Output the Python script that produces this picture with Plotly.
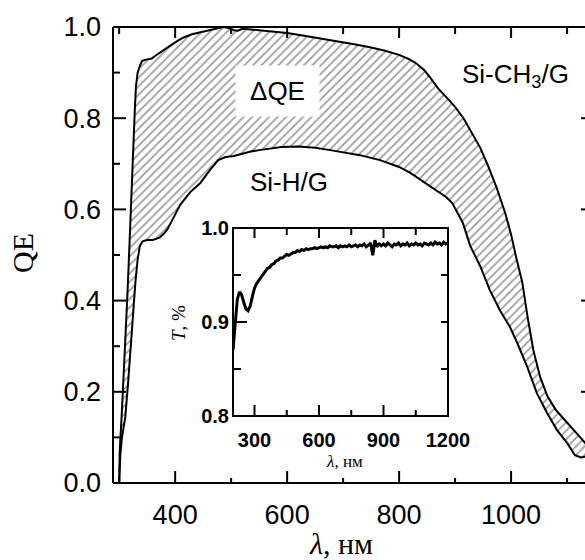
import plotly.graph_objects as go

# ---- data ----
wl_up = [300, 301, 305, 310, 315, 318, 322, 325, 328, 330, 333, 337, 341, 350, 358, 366, 375,
         390, 405, 415, 430, 445, 460, 475, 486, 495, 505, 512, 520, 530, 545, 560, 580, 600,
         625, 650, 675, 700, 725, 750, 775, 800, 815, 830, 845, 855, 870, 885, 900, 915, 930,
         945, 960, 975, 990, 1000, 1010, 1020, 1030, 1040, 1052, 1065, 1080, 1095, 1110, 1120,
         1132, 1145]
qe_up = [0.0, 0.07, 0.16, 0.28, 0.42, 0.51, 0.65, 0.74, 0.82, 0.87, 0.90, 0.915, 0.926, 0.929,
         0.931, 0.938, 0.946, 0.958, 0.970, 0.977, 0.984, 0.988, 0.992, 0.996, 1.0, 0.998, 0.993,
         0.992, 0.996, 0.995, 0.993, 0.991, 0.989, 0.987, 0.982, 0.977, 0.972, 0.967, 0.961,
         0.955, 0.948, 0.939, 0.931, 0.921, 0.905, 0.89, 0.865, 0.845, 0.825, 0.80, 0.768,
         0.735, 0.692, 0.645, 0.590, 0.545, 0.49, 0.44, 0.36, 0.29, 0.232, 0.19, 0.16, 0.14,
         0.12, 0.105, 0.088, 0.07]

wl_lo = [300, 302, 305, 311, 316, 320, 325, 329, 333, 337, 342, 350, 360, 366, 372, 380, 386,
         395, 409, 427, 445, 462, 477, 490, 505, 520, 535, 550, 570, 590, 620, 650, 677, 705,
         730, 766, 800, 820, 837, 855, 870, 885, 895, 905, 914, 927, 945, 962, 980, 998, 1011,
         1029, 1046, 1064, 1082, 1100, 1114, 1125, 1132, 1145]
qe_lo = [0.0, 0.06, 0.10, 0.145, 0.22, 0.29, 0.37, 0.44, 0.49, 0.52, 0.530, 0.533, 0.533,
         0.536, 0.538, 0.547, 0.556, 0.577, 0.61, 0.638, 0.658, 0.686, 0.708, 0.715, 0.717,
         0.722, 0.727, 0.730, 0.734, 0.737, 0.738, 0.735, 0.730, 0.724, 0.719, 0.708, 0.693,
         0.680, 0.666, 0.652, 0.640, 0.626, 0.614, 0.59, 0.57, 0.52, 0.475, 0.423, 0.379,
         0.342, 0.307, 0.254, 0.197, 0.154, 0.116, 0.088, 0.061, 0.056, 0.057, 0.06]

t_wl = list(range(200, 1201, 10))
t_val = [0.870, 0.902, 0.924, 0.932, 0.929, 0.921, 0.914, 0.912, 0.917, 0.927,
         0.936, 0.941, 0.944, 0.948, 0.951, 0.953, 0.957, 0.958, 0.961, 0.962,
         0.965, 0.966, 0.968, 0.968, 0.970, 0.972, 0.971, 0.973, 0.974, 0.974,
         0.976, 0.975, 0.977, 0.976, 0.978, 0.977, 0.978, 0.978, 0.979, 0.978,
         0.979, 0.980, 0.979, 0.980, 0.979, 0.981, 0.980, 0.980, 0.981, 0.979,
         0.981, 0.980, 0.981, 0.980, 0.982, 0.980, 0.981, 0.982, 0.980, 0.982,
         0.981, 0.983, 0.980, 0.982, 0.984, 0.971, 0.987, 0.980, 0.983, 0.981,
         0.983, 0.981, 0.984, 0.982, 0.980, 0.983, 0.982, 0.984, 0.981, 0.983,
         0.982, 0.984, 0.981, 0.983, 0.982, 0.984, 0.982, 0.983, 0.981, 0.984,
         0.983, 0.982, 0.984, 0.982, 0.985, 0.983, 0.984, 0.982, 0.985, 0.983,
         0.984]

main_xticks = [400, 600, 800, 1000]
main_xminor = [300, 500, 700, 900, 1100]
main_yticks = [0.0, 0.2, 0.4, 0.6, 0.8, 1.0]
main_yminor = [0.1, 0.3, 0.5, 0.7, 0.9]
inset_xticks = [300, 600, 900, 1200]
inset_xminor = [450, 750, 1050]
inset_yticks = [0.8, 0.9, 1.0]
inset_yminor = [0.85, 0.95]

W, H = 585, 560
def fx(p):
    return p / W
def fy(p):
    return 1 - p / H

SANS = "Liberation Sans"
SERIF = "Liberation Serif"

# pixel geometry of the two plot areas
M_L, M_R, M_T, M_B = 113, 585, 27, 483
I_L, I_R, I_T, I_B = 233, 448, 228, 416
MW, MH = M_R - M_L, M_B - M_T
IW, IH = I_R - I_L, I_B - I_T

fig = go.Figure()
fig.add_trace(go.Scatter(x=wl_lo, y=qe_lo, mode="lines",
                         line=dict(color="black", width=2), xaxis="x", yaxis="y",
                         showlegend=False, hoverinfo="skip"))
fig.add_trace(go.Scatter(x=wl_up, y=qe_up, mode="lines",
                         line=dict(color="black", width=2), xaxis="x", yaxis="y",
                         fill="tonexty", fillcolor="white",
                         fillpattern=dict(shape="/", fgcolor="#999999", bgcolor="white",
                                          size=6, solidity=0.27),
                         showlegend=False, hoverinfo="skip"))
fig.add_trace(go.Scatter(x=t_wl, y=t_val, mode="lines",
                         line=dict(color="black", width=3), xaxis="x2", yaxis="y2",
                         showlegend=False, hoverinfo="skip"))

label_axis = dict(showline=False, showgrid=False, zeroline=False, ticks="")

fig.update_layout(
    template="none",
    width=W, height=H,
    margin=dict(l=0, r=0, t=0, b=0),
    paper_bgcolor="white", plot_bgcolor="rgba(0,0,0,0)",
    xaxis=dict(**label_axis, domain=[fx(M_L), fx(M_R)], range=[289, 1132], anchor="y",
               tickvals=main_xticks, ticklabelstandoff=13,
               tickfont=dict(family=SANS, size=27, color="black")),
    yaxis=dict(**label_axis, domain=[fy(M_B), fy(M_T)], range=[0, 1], anchor="x",
               tickvals=main_yticks, tickformat=".1f", ticklabelstandoff=11,
               tickfont=dict(family=SANS, size=27, color="black")),
    xaxis2=dict(**label_axis, domain=[fx(I_L), fx(I_R)], range=[200, 1200], anchor="y2",
                tickvals=inset_xticks, ticklabelstandoff=10,
                tickfont=dict(family=SANS, size=20, color="black", weight="bold")),
    yaxis2=dict(**label_axis, domain=[fy(I_B), fy(I_T)], range=[0.8, 1.0], anchor="x2",
                tickvals=inset_yticks, tickformat=".1f", ticklabelstandoff=3,
                tickfont=dict(family=SANS, size=20, color="black", weight="bold")),
)

frame = dict(color="black", width=2)

def xtick(axis, val, y0, length_px, height_px):
    sgn = 1 if y0 == 0 else -1
    fig.add_shape(type="line", xref=axis[0], yref=f"{axis[1]} domain",
                  x0=val, x1=val, y0=y0, y1=y0 + sgn * length_px / height_px, line=frame)

def ytick(axis, val, x0, length_px, width_px):
    sgn = 1 if x0 == 0 else -1
    fig.add_shape(type="line", xref=f"{axis[0]} domain", yref=axis[1],
                  x0=x0, x1=x0 + sgn * length_px / width_px, y0=val, y1=val, line=frame)

# main plot ticks (inside)
for v in main_xticks:
    xtick(("x", "y"), v, 0, 12, MH)
    xtick(("x", "y"), v, 1, 11, MH)
for v in main_xminor:
    xtick(("x", "y"), v, 0, 5, MH)
    xtick(("x", "y"), v, 1, 7, MH)
for v in main_yticks:
    ytick(("x", "y"), v, 0, 13, MW)
    ytick(("x", "y"), v, 1, 4, MW)
for v in main_yminor:
    ytick(("x", "y"), v, 0, 7, MW)

# inset ticks (inside)
for v in inset_xticks:
    xtick(("x2", "y2"), v, 0, 11, IH)
    xtick(("x2", "y2"), v, 1, 10, IH)
for v in inset_xminor:
    xtick(("x2", "y2"), v, 0, 6, IH)
    xtick(("x2", "y2"), v, 1, 7, IH)
for v in inset_yticks:
    ytick(("x2", "y2"), v, 0, 14, IW)
    ytick(("x2", "y2"), v, 1, 7, IW)
for v in inset_yminor:
    ytick(("x2", "y2"), v, 0, 8, IW)
    ytick(("x2", "y2"), v, 1, 7, IW)

# frame lines (left, bottom, top of main plot; full box of inset)
fig.add_shape(type="line", xref="x domain", yref="y domain", x0=0, x1=0, y0=0, y1=1, line=frame)
fig.add_shape(type="line", xref="x domain", yref="y domain", x0=0, x1=1, y0=0, y1=0, line=frame)
fig.add_shape(type="line", xref="x domain", yref="y domain", x0=0, x1=1, y0=1, y1=1, line=frame)
fig.add_shape(type="rect", xref="x2 domain", yref="y2 domain", x0=0, x1=1, y0=0, y1=1,
              line=frame)

def ann(text, x, y, size, family=SANS, angle=0, **kw):
    fig.add_annotation(text=text, x=fx(x), y=fy(y), xref="paper", yref="paper",
                       showarrow=False, textangle=angle, xanchor="center", yanchor="middle",
                       font=dict(family=family, size=size, color="black"), **kw)

ann("QE", 23, 253, 30, SERIF, -90)
ann("<i>λ</i>, нм", 341, 543, 30, SERIF)
ann("<i>T</i>, %", 178, 323, 19, SERIF, -90)
ann("<i>λ</i>, нм", 344, 461, 17, SERIF)
ann("ΔQE", 277.5, 91, 26, bgcolor="white", width=81, height=48)
ann("Si-H/G", 289, 182, 26)
ann("Si-CH<sub>3</sub>/G", 515, 76, 26)

fig.write_html("out.html")
